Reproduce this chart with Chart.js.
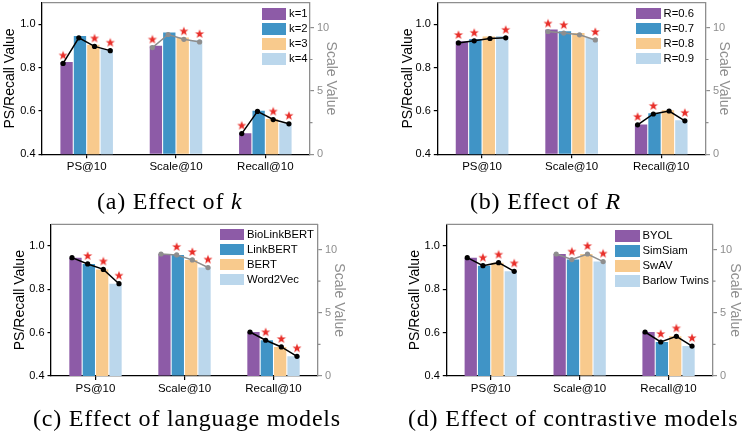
<!DOCTYPE html>
<html>
<head>
<meta charset="utf-8">
<script src="https://cdn.jsdelivr.net/npm/chart.js@4.4.1/dist/chart.umd.min.js"></script>
<style>
  body { margin: 0; background: #fff; }
  #wrap { position: relative; width: 746px; height: 434px; background: #fff; overflow: hidden; }
  .panel { position: absolute; width: 373px; height: 217px; }
  .panel canvas { position: absolute; left: 0; top: 0; }
  .lg-box { position: absolute; width: 24.5px; height: 11.5px; }
  .lg-txt { position: absolute; font: 11.3px "Liberation Sans", Arial, sans-serif; line-height: 11.5px; color: #000; white-space: nowrap; }
  .cap { position: absolute; font: 24px "Liberation Serif", "Times New Roman", serif; letter-spacing: 0.8px; line-height: 24px; color: #000; white-space: nowrap; }
</style>
</head>
<body>
<div id="wrap"></div>
<script>
// categories shared by every panel
const categories = ['PS@10', 'Scale@10', 'Recall@10'];
const leftTicks = [0.4, 0.6, 0.8, 1.0];
const rightTicks = [0, 5, 10];
const rightMinor = [2.5, 7.5];

// (a) effect of k
const kLabels = ['k=1', 'k=2', 'k=3', 'k=4'];
const kPS = [0.826, 0.946, 0.906, 0.886];
const kScale = [8.58, 9.63, 9.24, 9.03];
const kRecall = [0.497, 0.601, 0.563, 0.543];
const kBest = 1;

// (b) effect of R
const rLabels = ['R=0.6', 'R=0.7', 'R=0.8', 'R=0.9'];
const rPS = [0.922, 0.932, 0.943, 0.946];
const rScale = [9.87, 9.74, 9.60, 9.19];
const rRecall = [0.538, 0.589, 0.603, 0.557];
const rBest = 2;

// (c) language models
const lmLabels = ['BioLinkBERT', 'LinkBERT', 'BERT', 'Word2Vec'];
const lmPS = [0.946, 0.917, 0.892, 0.826];
const lmScale = [9.65, 9.58, 9.18, 8.58];
const lmRecall = [0.603, 0.565, 0.534, 0.491];
const lmBest = 0;

// (d) contrastive models
const cmLabels = ['BYOL', 'SimSiam', 'SwAV', 'Barlow Twins'];
const cmPS = [0.946, 0.909, 0.923, 0.883];
const cmScale = [9.65, 9.21, 9.65, 9.05];
const cmRecall = [0.603, 0.557, 0.583, 0.538];
const cmBest = 0;

const barColors = ['#8D5BA7', '#4094C6', '#F8CA8D', '#BBD7EC'];
const gray = '#8e8e8e';
const markerStep = 0.176;
const W = 373;
const H = 185;

Chart.defaults.font.family = '"Liberation Sans", Arial, sans-serif';

function makeStar(color) {
    const c = document.createElement('canvas');
    c.width = 12; c.height = 28;
    const g = c.getContext('2d');
    g.fillStyle = color;
    g.beginPath();
    for (let i = 0; i < 10; i++) {
        const r = i % 2 ? 2.0 : 4.8;
        const a = -Math.PI / 2 + i * Math.PI / 5;
        g.lineTo(6 + r * Math.cos(a), 6 + r * Math.sin(a));
    }
    g.closePath();
    g.fill();
    return c;
}
const starImg = makeStar('#E8302B');

const panels = [
    { left: 0, top: 0, labels: kLabels, ps: kPS, scale: kScale, recall: kRecall, best: kBest,
      pad: { left: 2, right: 33.6, top: 2.6 }, leftW: 40, rightW: 29.4, bottom: 154.3,
      legend: { x: 261.5, y: 8 }, caption: { x: 97, y: 188.5, html: '(a) Effect of <i>k</i>' } },
    { left: 373, top: 0, labels: rLabels, ps: rPS, scale: rScale, recall: rRecall, best: rBest,
      pad: { left: 26.6, right: 14, top: 2.6 }, leftW: 37.7, rightW: 26, bottom: 154.3,
      legend: { x: 263, y: 7.5 }, caption: { x: 97, y: 188.5, html: '(b) Effect of <i>R</i>' } },
    { left: 0, top: 217, labels: lmLabels, ps: lmPS, scale: lmScale, recall: lmRecall, best: lmBest,
      pad: { left: 11.6, right: 25.6, top: 7.3 }, leftW: 39.4, rightW: 29.4, bottom: 159,
      legend: { x: 219.5, y: 11.5 }, caption: { x: 33, y: 188.5, html: '(c) Effect of language models' } },
    { left: 373, top: 217, labels: cmLabels, ps: cmPS, scale: cmScale, recall: cmRecall, best: cmBest,
      pad: { left: 33.3, right: 3, top: 7.3 }, leftW: 40, rightW: 30, bottom: 159,
      legend: { x: 242, y: 13 }, caption: { x: 35, y: 188.5, html: '(d) Effect of contrastive models' } }
];

// gray top frame + minor ticks of the right axis
const framePlugin = {
    id: 'frame',
    afterDraw(chart) {
        const { ctx, chartArea } = chart;
        const y2 = chart.scales.y2;
        ctx.save();
        ctx.strokeStyle = gray;
        ctx.lineWidth = 1.2;
        ctx.beginPath();
        ctx.moveTo(chartArea.left, chartArea.top);
        ctx.lineTo(chartArea.right, chartArea.top);
        rightMinor.forEach(v => {
            const y = y2.getPixelForValue(v);
            ctx.moveTo(chartArea.right, y);
            ctx.lineTo(chartArea.right + 2.5, y);
        });
        ctx.stroke();
        ctx.restore();
    }
};

function points(vals, cat, skip) {
    return vals.map((v, j) => ({ x: cat + (j - 1.5) * markerStep, y: v }))
        .filter((_, j) => j !== skip);
}

function lineDs(data, axis, color) {
    return {
        data, xAxisID: 'xl', yAxisID: axis,
        borderColor: color, borderWidth: 1.5, fill: false,
        pointRadius: 2.6, pointBackgroundColor: color, pointBorderWidth: 0
    };
}

function starDs(data, axis) {
    return {
        data, xAxisID: 'xl', yAxisID: axis,
        showLine: false, pointStyle: starImg, pointRadius: 3
    };
}

function addCanvas(div) {
    const cv = document.createElement('canvas');
    cv.width = W; cv.height = H;
    div.appendChild(cv);
    return cv;
}

function buildPanel(p) {
    const div = document.createElement('div');
    div.className = 'panel';
    div.style.left = p.left + 'px';
    div.style.top = p.top + 'px';
    document.getElementById('wrap').appendChild(div);
    const barCanvas = addCanvas(div);
    const lineCanvas = addCanvas(div);

    p.labels.forEach((lab, j) => {
        const b = document.createElement('div');
        b.className = 'lg-box';
        b.style.left = p.legend.x + 'px';
        b.style.top = (p.legend.y + j * 15) + 'px';
        b.style.background = barColors[j];
        div.appendChild(b);
        const t = document.createElement('div');
        t.className = 'lg-txt';
        t.style.left = (p.legend.x + 27.5) + 'px';
        t.style.top = (p.legend.y + j * 15) + 'px';
        t.textContent = lab;
        div.appendChild(t);
    });

    const cap = document.createElement('div');
    cap.className = 'cap';
    cap.style.left = p.caption.x + 'px';
    cap.style.top = p.caption.y + 'px';
    cap.innerHTML = p.caption.html;
    div.appendChild(cap);

    // one stack per series: left-axis part (PS, Recall) + right-axis part (Scale)
    const bars = [];
    p.labels.forEach((lab, j) => {
        bars.push({
            label: lab, data: [p.ps[j], null, p.recall[j]], stack: 's' + j,
            yAxisID: 'y', backgroundColor: barColors[j],
            barPercentage: 0.92, categoryPercentage: 0.6
        });
        bars.push({
            label: lab, data: [null, p.scale[j], null], stack: 's' + j,
            yAxisID: 'y2', backgroundColor: barColors[j],
            barPercentage: 0.92, categoryPercentage: 0.6
        });
    });

    const barChart = new Chart(barCanvas.getContext('2d'), {
        type: 'bar',
        data: { labels: categories, datasets: bars },
        options: {
            responsive: false,
            animation: false,
            devicePixelRatio: 1,
            layout: { padding: { left: p.pad.left, right: p.pad.right, top: p.pad.top, bottom: 0 } },
            plugins: { legend: { display: false }, tooltip: { enabled: false } },
            scales: {
                x: {
                    type: 'category',
                    grid: { drawOnChartArea: false, offset: false, tickLength: 4, color: '#000', lineWidth: 1.2 },
                    border: { color: '#000', width: 1.3 },
                    ticks: { color: '#000', font: { size: 11.5 }, padding: 2, maxRotation: 0 },
                    afterFit: s => { s.height = H - p.bottom; s.paddingLeft = 0; s.paddingRight = 0; }
                },
                y: {
                    type: 'linear', position: 'left', min: 0.4, max: 1.1,
                    afterBuildTicks: s => { s.ticks = leftTicks.map(v => ({ value: v })); },
                    ticks: { callback: v => v.toFixed(1), color: '#000', font: { size: 11 }, padding: 3 },
                    grid: { drawOnChartArea: false, tickLength: 3.5, color: '#000', lineWidth: 1.2 },
                    border: { color: '#000', width: 1.3 },
                    title: { display: true, text: 'PS/Recall Value', color: '#000', font: { size: 14 }, padding: 0 },
                    afterFit: s => { s.width = p.leftW; s.paddingTop = 0; s.paddingBottom = 0; }
                },
                y2: {
                    type: 'linear', position: 'right', min: 0, max: 12,
                    afterBuildTicks: s => { s.ticks = rightTicks.map(v => ({ value: v })); },
                    ticks: { color: gray, font: { size: 11 }, padding: 3 },
                    grid: { drawOnChartArea: false, tickLength: 4, color: gray, lineWidth: 1.2 },
                    border: { color: gray, width: 1.3 },
                    title: { display: true, text: 'Scale Value', color: gray, font: { size: 14 }, padding: 0 },
                    afterFit: s => { s.width = p.rightW; s.paddingTop = 0; s.paddingBottom = 0; }
                }
            }
        },
        plugins: [framePlugin]
    });

    // if the layout pushed the plot top down, pull it back up once
    const extra = barChart.chartArea.top - p.pad.top;
    if (extra > 0.3) {
        barChart.options.layout.padding.top = Math.max(0, p.pad.top - extra);
        barChart.update();
    }

    // lines, markers and stars on a transparent chart with the same plot area
    const area = barChart.chartArea;
    new Chart(lineCanvas.getContext('2d'), {
        type: 'line',
        data: {
            datasets: [
                lineDs(points(p.ps, 0), 'y', '#000'),
                lineDs(points(p.recall, 2), 'y', '#000'),
                lineDs(points(p.scale, 1), 'y2', gray),
                starDs(points(p.ps, 0, p.best).concat(points(p.recall, 2, p.best)), 'y'),
                starDs(points(p.scale, 1, p.best), 'y2')
            ]
        },
        options: {
            responsive: false,
            animation: false,
            devicePixelRatio: 1,
            layout: { padding: { left: area.left, right: W - area.right, top: area.top, bottom: H - area.bottom } },
            plugins: { legend: { display: false }, tooltip: { enabled: false } },
            scales: {
                xl: { type: 'linear', display: false, offset: false, min: -0.5, max: 2.5 },
                y: { type: 'linear', display: false, min: 0.4, max: 1.1 },
                y2: { type: 'linear', display: false, min: 0, max: 12 }
            }
        }
    });
}

panels.forEach(buildPanel);
</script>
</body>
</html>
